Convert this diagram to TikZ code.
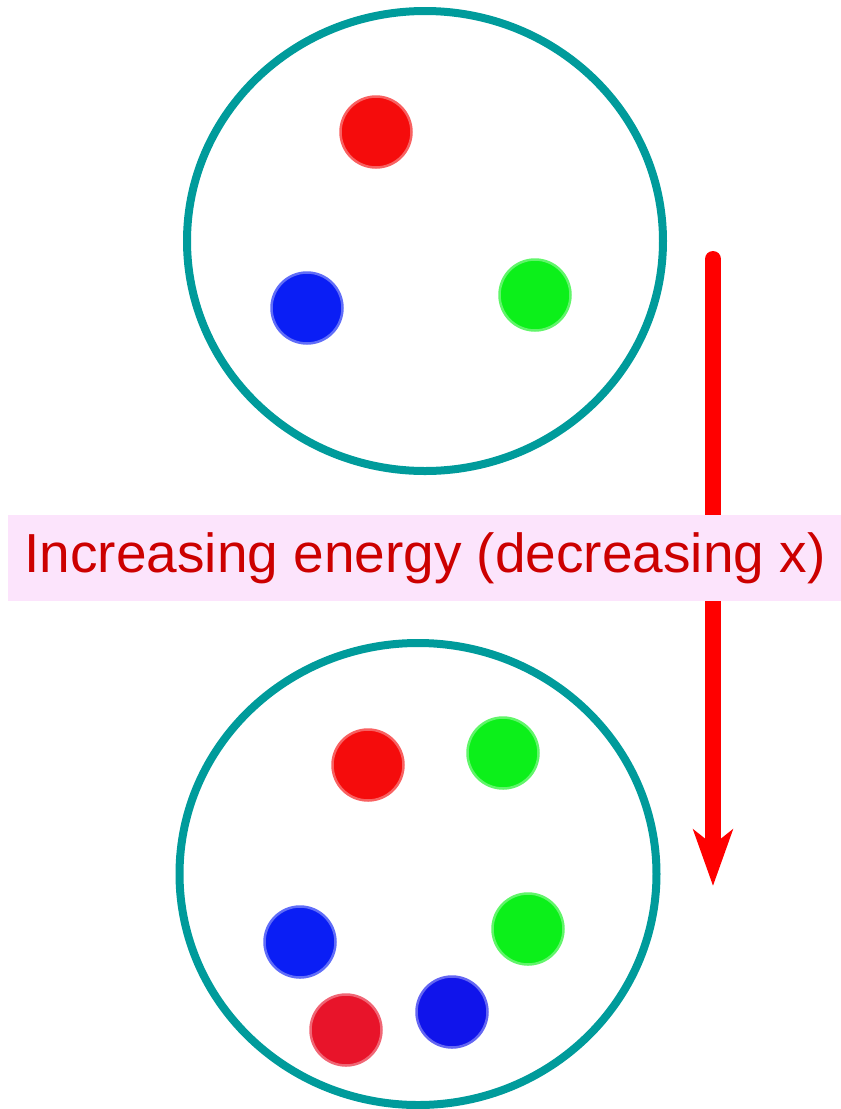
\documentclass[tikz,border=0pt]{standalone}
\usepackage{fontspec}
\setmainfont{Liberation Sans}
\usepackage{xcolor}
\usetikzlibrary{arrows.meta,positioning,shapes.geometric}
\definecolor{cellteal}{RGB}{0,155,155}
\definecolor{dotred}{RGB}{245,12,12}
\definecolor{dotcrimson}{RGB}{232,20,42}
\definecolor{dotgreen}{RGB}{12,240,26}
\definecolor{dotblue}{RGB}{10,30,245}
\definecolor{dotnavy}{RGB}{16,20,235}
\definecolor{bandpink}{RGB}{252,228,252}
\definecolor{labelred}{RGB}{204,0,0}
\tikzset{
  cell/.style={ellipse, draw=cellteal, line width=8pt, minimum width=476pt,
    minimum height=460pt, inner sep=0pt},
  dot/.style={circle, fill=#1, draw=#1!65, line width=2.5pt, minimum size=71pt,
    inner sep=0pt},
  band/.style={fill=bandpink, minimum width=834pt, minimum height=86pt,
    inner sep=0pt, text=labelred, font=\fontsize{55}{60}\selectfont},
  arr/.style={-{Stealth[length=56pt,width=39pt,inset=15pt]}, line width=16pt,
    line cap=round, draw=red}
}
\begin{document}
\begin{tikzpicture}[x=1pt,y=-1pt]
\useasboundingbox (0,0) rectangle (841,1109);
\node[cell] (c1) at (425,241) {};
\node[dot=dotred] (r1) at (376,132) {};
\node[dot=dotblue] (b1) at (307,308) {};
\node[dot=dotgreen] (g1) at (535,295) {};

\node[cell, minimum width=477pt, minimum height=462pt] (c2) at (418,874) {};
\node[dot=dotred] (r2) at (368,765) {};
\node[dot=dotgreen] (g2) at (503,753) {};
\node[dot=dotblue] (b2) at (300,942) {};
\node[dot=dotgreen] (g3) at (528,929) {};
\node[dot=dotcrimson] (r3) at (346,1030) {};
\node[dot=dotnavy] (b3) at (452,1012) {};

\coordinate (a0) at (713,259);
\coordinate (a1) at (713,886);
\draw[arr] (a0) -- (a1);

\node[band] (lbl) at (425,558) {Increasing energy (decreasing x)};
\end{tikzpicture}
\end{document}
